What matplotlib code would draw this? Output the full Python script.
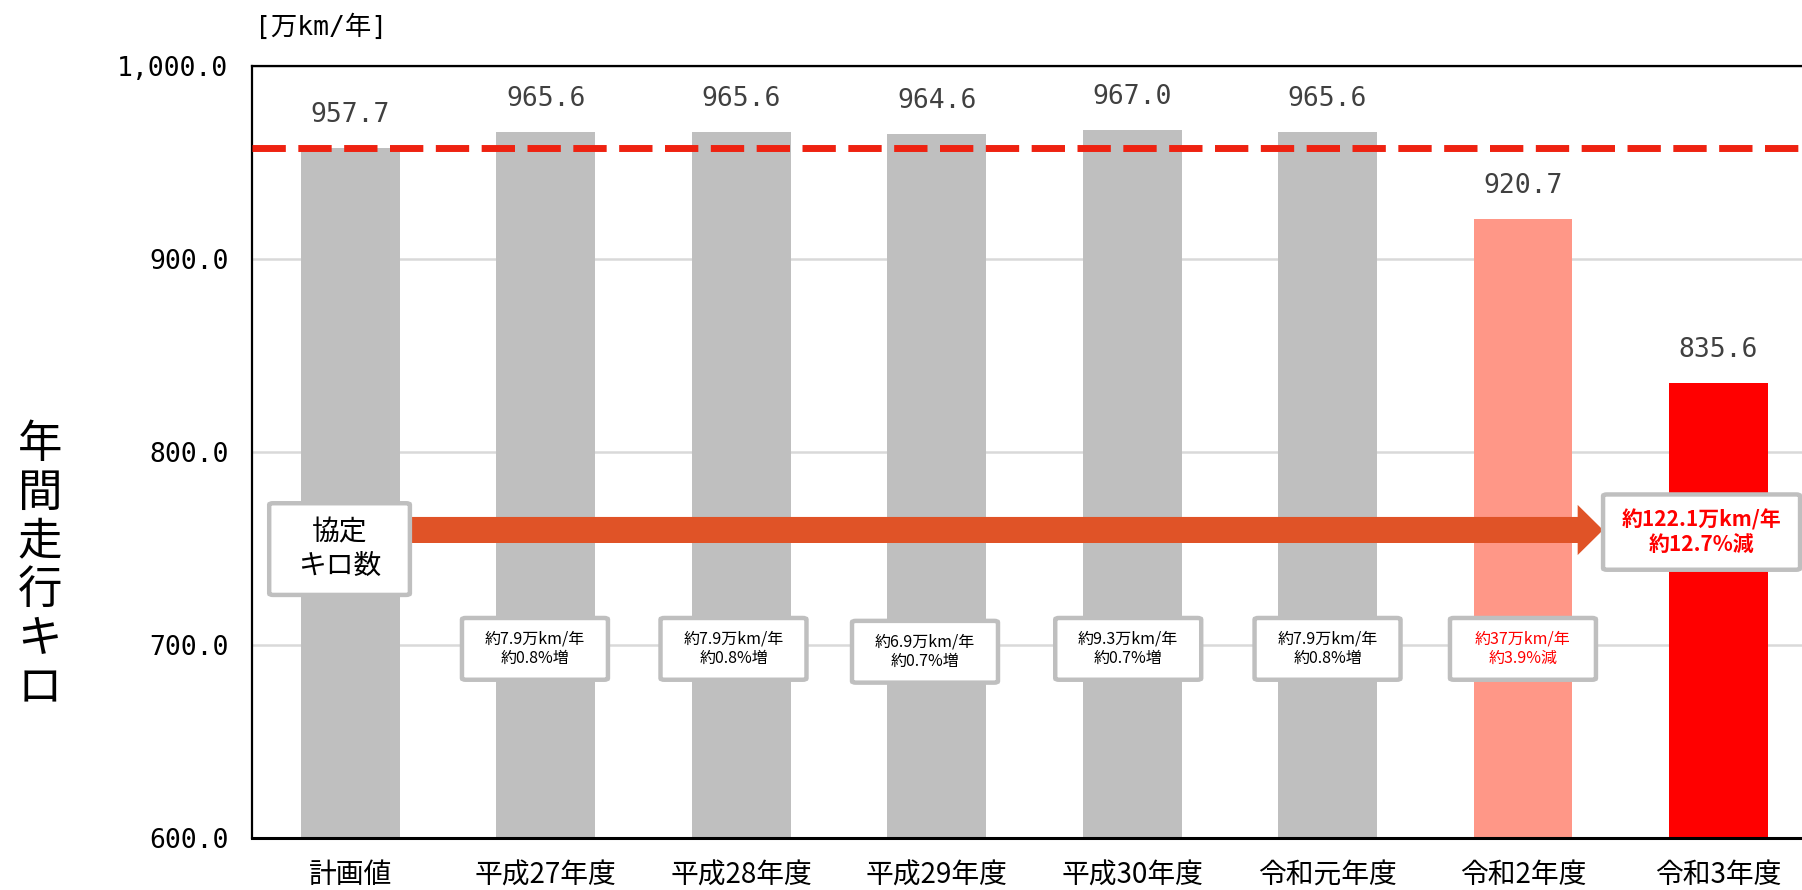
import matplotlib.pyplot as plt
from matplotlib.patches import FancyArrow, FancyBboxPatch

plt.rcParams['font.family'] = ['Noto Sans CJK JP', 'DejaVu Sans']

# 年度別の年間走行キロ [万km/年]
categories = ['計画値', '平成27年度', '平成28年度', '平成29年度', '平成30年度',
              '令和元年度', '令和2年度', '令和3年度']
values = [957.7, 965.6, 965.6, 964.6, 967.0, 965.6, 920.7, 835.6]
plan_value = 957.7

# 計画値との差
diff_labels = ['約7.9万km/年\n約0.8%増', '約7.9万km/年\n約0.8%増', '約6.9万km/年\n約0.7%増',
               '約9.3万km/年\n約0.7%増', '約7.9万km/年\n約0.8%増', '約37万km/年\n約3.9%減']
diff_colors = ['black', 'black', 'black', 'black', 'black', '#FF0000']
total_label = '約122.1万km/年\n約12.7%減'

bar_colors = ['#BFBFBF'] * 6 + ['#FF9787', '#FF0000']
yticks = [600, 700, 800, 900, 1000]

fig = plt.figure(figsize=(18.02, 8.90), dpi=100)
ax = fig.add_axes([252 / 1802, 52 / 890, 1550 / 1802, 772 / 890])

x = list(range(len(categories)))
ax.bar(x, values, width=0.506, color=bar_colors, zorder=2)
ax.set_xlim(-0.504, 7.428)
ax.set_ylim(600, 1000)

ax.set_yticks(yticks)
ax.set_yticklabels([f'{v:,.1f}' for v in yticks], family='DejaVu Sans Mono', fontsize=19)
ax.set_xticks(x)
ax.set_xticklabels(categories, fontsize=20)
ax.tick_params(axis='both', length=0)
ax.tick_params(axis='x', pad=16)
ax.tick_params(axis='y', pad=17)

ax.grid(axis='y', color='#D9D9D9', linewidth=1.8, zorder=0)
ax.spines['right'].set_visible(False)
for side in ['left', 'top']:
    ax.spines[side].set_linewidth(1.6)
ax.spines['bottom'].set_linewidth(2.2)

# 計画値の破線
ax.axhline(plan_value, color='#EE2211', linewidth=5, dashes=(4.8, 1.8), zorder=4)

# 値ラベル
for xi, v in zip(x, values):
    ax.annotate(f'{v:.1f}', (xi, v), xytext=(0, 23.8), textcoords='offset points',
                ha='center', va='center', fontsize=19, color='#404040',
                family='DejaVu Sans Mono', zorder=5)

# 協定キロ数の矢印
ax.add_patch(FancyArrow(0.0, 759.6, 6.41, 0, width=13.5, head_width=26,
                        head_length=0.13, length_includes_head=True,
                        color='#E05327', linewidth=0, zorder=5))


def label_box(cx, cy, w, h, text, color, size, weight='normal'):
    ax.add_patch(FancyBboxPatch((cx - w / 2, cy - h / 2), w, h,
                                boxstyle='round,pad=0,rounding_size=0.02',
                                mutation_aspect=40, facecolor='white',
                                edgecolor='#BFBFBF', linewidth=3.2, zorder=6))
    ax.text(cx, cy, text, ha='center', va='center', fontsize=size, color=color,
            fontweight=weight, linespacing=1.15, zorder=7)


label_box(-0.056, 749.7, 0.72, 47.5, '協定\nキロ数', 'black', 20)
box_shift = [-0.056, -0.04, -0.06, -0.02, 0.0, 0.0]
box_y = [698, 698, 696.5, 698, 698, 698]
for xi, dx, by, txt, c in zip(x[1:7], box_shift, box_y, diff_labels, diff_colors):
    label_box(xi + dx, by, 0.747, 32, txt, c, 11.5)
label_box(6.914, 758.5, 1.008, 39, total_label, '#FF0000', 15, 'bold')

# 単位と縦書きの軸ラベル
fig.text(255 / 1802, 1 - 28 / 890, '[万km/年]', fontsize=19, va='center', ha='left',
         family=['DejaVu Sans Mono', 'Noto Sans CJK JP'])
fig.text(40 / 1802, 1 - 566 / 890, '\n'.join('年間走行キロ'), fontsize=32,
         ha='center', va='center', linespacing=1.08)

fig.savefig('out.png', dpi=100)
